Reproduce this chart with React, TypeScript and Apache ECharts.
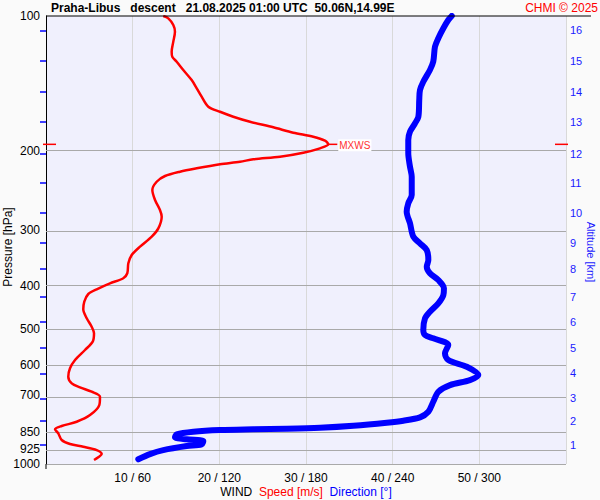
import React, { useEffect, useRef } from "react";
import * as echarts from "echarts";

const titleText =
  "Praha-Libus\u00a0\u00a0\u00a0descent\u00a0\u00a0\u00a021.08.2025 01:00 UTC\u00a0\u00a050.06N,14.99E";
const copyrightText = "CHMI \u00a9 2025";

const pressureTicks = [100, 200, 300, 400, 500, 600, 700, 850, 925, 1000];
const speedTicks = [10, 20, 30, 40, 50];
const altitudeKm = [1, 2, 3, 4, 5, 6, 7, 8, 9, 10, 11, 12, 13, 14, 15, 16];
const altitudePressure = [
  907.9, 802.7, 713.5, 627.3, 551.5, 482.6, 424.4, 367.4, 321.4, 275.4, 236.1,
  203.4, 172.5, 147.8, 126.1, 107.7,
];

// wind speed profile (m/s) vs pressure (hPa)
const speedPressure = [
  100, 101.2, 104.7, 108.4, 114.1, 120.1, 123.3, 126.5, 132.0, 139.0, 145.0,
  151.4, 159.4, 163.6, 167.8, 172.2, 177.2, 182.2, 186.0, 189.8, 193.4, 197.4,
  201.9, 206.1, 208.9, 211.5, 214.3, 218.8, 222.6, 227.6, 234.4, 244.6, 257.5,
  271.0, 280.5, 297.8, 310.9, 327.3, 341.6, 356.5, 375.2, 385.0, 395.1, 407.4,
  417.4, 434.2, 451.5, 472.9, 493.7, 510.8, 533.3, 556.6, 586.1, 611.6, 638.6,
  660.6, 674.3, 689.7, 707.7, 738.5, 777.4, 804.7, 822.7, 836.7, 854.2, 884.1,
  902.6, 915.2, 930.9, 950.2, 966.1, 979.7,
];
const speedValues = [
  13.53, 14.11, 14.69, 14.88, 14.69, 14.5, 14.57, 15.08, 15.84, 16.81, 17.39,
  17.96, 18.73, 20.08, 21.61, 23.54, 26.23, 28.53, 30.84, 32.19, 32.57, 31.61,
  29.69, 27.0, 23.92, 22.38, 20.08, 17.39, 15.46, 13.73, 12.77, 12.27, 12.58,
  13.15, 13.35, 12.96, 12.2, 10.85, 9.89, 9.5, 9.38, 8.92, 7.38, 5.85, 4.88,
  4.42, 4.3, 4.7, 5.27, 5.54, 5.39, 4.5, 3.35, 2.77, 2.57, 2.97, 3.92, 5.27,
  6.23, 6.15, 5.08, 3.54, 1.81, 1.04, 1.42, 1.81, 2.77, 4.3, 5.85, 6.43, 6.03,
  5.54,
];

// wind direction profile (deg) vs pressure (hPa)
const dirPressure = [
  100, 102.1, 106.5, 112.1, 117.1, 126.5, 132.0, 140.2, 146.3, 154.0, 167.8,
  173.6, 181.2, 189.1, 202.6, 217.0, 228.5, 250.9, 261.9, 273.4, 290.2, 310.9,
  321.7, 333.0, 350.5, 362.8, 375.2, 388.4, 405.3, 419.6, 437.8, 457.1, 472.9,
  502.3, 515.4, 524.2, 542.6, 566.2, 586.1, 606.6, 633.1, 649.6, 666.5, 689.9,
  726.1, 764.4, 786.7, 800.5, 808.8, 821.4, 829.9, 834.2, 836.7, 839.8, 847.1,
  858.5, 871.9, 881.0, 888.8, 903.9, 911.8, 930.9, 950.2, 976.1,
];
const dirValues = [
  280.9, 278.5, 275.1, 271.6, 269.3, 268.1, 265.8, 261.2, 258.9, 258.4, 257.8,
  255.5, 252.0, 250.8, 250.8, 252.0, 253.2, 253.2, 250.8, 249.7, 252.0, 254.3,
  258.9, 263.6, 264.7, 263.6, 265.8, 271.6, 275.5, 275.1, 271.6, 265.8, 262.4,
  261.2, 262.4, 268.1, 278.5, 276.2, 278.5, 291.3, 299.3, 293.5, 279.7, 271.6,
  268.1, 264.7, 258.9, 247.4, 235.9, 212.8, 189.7, 166.6, 143.5, 120.5, 102.0,
  90.5, 89.3, 97.4, 108.9, 107.8, 97.4, 81.2, 72.0, 63.9,
];

const maxWindSpeed = 32.57;
const maxWindPressure = 193.4;

const FONT = "'Liberation Sans', Arial, sans-serif";

export default function App() {
  const ref = useRef<HTMLDivElement>(null);

  useEffect(() => {
    document.body.style.margin = "0";
    if (!ref.current) return;
    const chart = echarts.init(ref.current, null, { renderer: "svg" });

    const pressureLog = pressureTicks.map((p) => Math.log10(p));
    const altitudeLog = altitudePressure.map((p) => Math.log10(p));

    const option: any = {
      animation: false,
      backgroundColor: "#fafafa",
      textStyle: { fontFamily: FONT },
      grid: {
        left: 46,
        right: 34,
        top: 16,
        bottom: 36,
        show: true,
        backgroundColor: "#f0f0fd",
        borderWidth: 0,
      },
      xAxis: [
        {
          type: "value",
          min: 0,
          max: 60,
          interval: 10,
          axisLine: { show: false },
          axisTick: { show: false },
          splitLine: { show: true, lineStyle: { color: "#d9d9d9", width: 1 } },
          axisLabel: {
            color: "#000",
            fontSize: 12,
            margin: 8,
            fontFamily: FONT,
            formatter: (v: number) =>
              speedTicks.includes(v) ? `${v} / ${v * 6}` : "",
          },
        },
        {
          type: "value",
          min: 0,
          max: 360,
          show: false,
        },
      ],
      yAxis: [
        {
          type: "value",
          min: 2,
          max: 3,
          inverse: true,
          axisLine: { show: true, lineStyle: { color: "#000", width: 1 } },
          axisTick: { show: false },
          splitLine: { show: false },
          axisLabel: {
            customValues: pressureLog,
            color: "#000",
            fontSize: 12,
            margin: 6,
            fontFamily: FONT,
            formatter: (v: number) => String(Math.round(Math.pow(10, v))),
          },
        },
        {
          type: "value",
          min: 2,
          max: 3,
          inverse: true,
          position: "right",
          axisLine: { show: false },
          splitLine: { show: false },
          axisTick: {
            show: true,
            inside: true,
            length: 6,
            customValues: altitudeLog,
            lineStyle: { color: "#0000ff", width: 1.5 },
          },
          axisLabel: {
            customValues: altitudeLog,
            color: "#1a1aff",
            fontSize: 11,
            margin: 4,
            fontFamily: FONT,
            formatter: (v: number) => {
              const i = altitudeLog.findIndex((a) => Math.abs(a - v) < 1e-6);
              return i >= 0 ? String(altitudeKm[i]) : "";
            },
          },
        },
      ],
      series: [
        {
          name: "grid",
          type: "line",
          xAxisIndex: 0,
          yAxisIndex: 0,
          data: [],
          z: 1,
          markLine: {
            silent: true,
            z: 1,
            symbol: "none",
            label: { show: false },
            lineStyle: { color: "#a9a9a9", width: 1, type: "solid" },
            data: pressureLog.filter((v) => v > 2).map((v) => ({ yAxis: v })),
          },
        },
        {
          name: "Speed",
          type: "line",
          xAxisIndex: 0,
          yAxisIndex: 0,
          showSymbol: false,
          symbol: "none",
          smooth: 0.3,
          z: 3,
          lineStyle: { color: "#ff0000", width: 2.5, join: "round" },
          data: speedPressure.map((p, i) => [speedValues[i], Math.log10(p)]),
        },
        {
          name: "Direction",
          type: "line",
          xAxisIndex: 1,
          yAxisIndex: 0,
          showSymbol: false,
          symbol: "none",
          smooth: 0.3,
          z: 3,
          lineStyle: { color: "#0000ff", width: 6, cap: "round", join: "round" },
          data: dirPressure.map((p, i) => [dirValues[i], Math.log10(p)]),
        },
      ],
    };

    chart.setOption(option);

    const toPx = (x: number, y: number) =>
      chart.convertToPixel({ xAxisIndex: 0, yAxisIndex: 0 }, [x, y]) as number[];
    const yMax = Math.log10(maxWindPressure);
    const pMax = toPx(maxWindSpeed, yMax);
    const pLeft = toPx(0, yMax);
    const pRight = toPx(60, yMax);
    const pTop = toPx(0, 2);
    const pBottom = toPx(0, 3);

    chart.setOption({
      graphic: [
        {
          type: "line",
          shape: { x1: pTop[0], y1: pTop[1], x2: 591, y2: pTop[1] },
          style: { stroke: "#000", lineWidth: 1 },
          z: 10,
        },
        {
          type: "line",
          shape: { x1: pBottom[0], y1: pBottom[1], x2: pBottom[0], y2: pBottom[1] + 5 },
          style: { stroke: "#000", lineWidth: 1 },
          z: 10,
        },
        {
          type: "line",
          shape: { x1: pLeft[0] - 3, y1: pLeft[1], x2: pLeft[0] + 10, y2: pLeft[1] },
          style: { stroke: "#ff0000", lineWidth: 1.5 },
          z: 10,
        },
        {
          type: "line",
          shape: { x1: pRight[0] - 11, y1: pRight[1], x2: pRight[0] + 2, y2: pRight[1] },
          style: { stroke: "#ff0000", lineWidth: 1.5 },
          z: 10,
        },
        {
          type: "line",
          shape: { x1: pMax[0], y1: pMax[1], x2: pMax[0] + 9, y2: pMax[1] },
          style: { stroke: "#ff0000", lineWidth: 1.5 },
          z: 10,
        },
        {
          type: "text",
          x: pMax[0] + 10,
          y: pMax[1] + 1,
          z: 10,
          style: {
            text: "MXWS",
            fill: "#ff3333",
            font: `10px ${FONT}`,
            verticalAlign: "middle",
            align: "left",
            backgroundColor: "#ffffff",
            padding: [1, 1],
          },
        },
        {
          type: "text",
          x: 51,
          y: 8,
          z: 10,
          style: {
            text: titleText,
            fill: "#000",
            font: `bold 12px ${FONT}`,
            verticalAlign: "middle",
            align: "left",
          },
        },
        {
          type: "text",
          x: 598,
          y: 8,
          z: 10,
          style: {
            text: copyrightText,
            fill: "#ff0000",
            font: `12px ${FONT}`,
            verticalAlign: "middle",
            align: "right",
          },
        },
        {
          type: "text",
          x: 8,
          y: 247,
          rotation: Math.PI / 2,
          z: 10,
          style: {
            text: "Pressure [hPa]",
            fill: "#000",
            font: `12px ${FONT}`,
            verticalAlign: "middle",
            align: "center",
          },
        },
        {
          type: "text",
          x: 591,
          y: 252,
          rotation: -Math.PI / 2,
          z: 10,
          style: {
            text: "Altitude [km]",
            fill: "#1a1aff",
            font: `11px ${FONT}`,
            verticalAlign: "middle",
            align: "center",
          },
        },
        {
          type: "text",
          x: 306,
          y: 492,
          z: 10,
          style: {
            text: "{a|WIND}\u00a0\u00a0{b|Speed [m/s]}\u00a0\u00a0{c|Direction [\u00b0]}",
            font: `12px ${FONT}`,
            verticalAlign: "middle",
            align: "center",
            rich: {
              a: { fill: "#000", fontSize: 12, fontFamily: FONT },
              b: { fill: "#ff0000", fontSize: 12, fontFamily: FONT },
              c: { fill: "#0000ff", fontSize: 12, fontFamily: FONT },
            },
          },
        },
      ],
    });

    return () => chart.dispose();
  }, []);

  return <div ref={ref} style={{ width: 600, height: 500 }} />;
}
